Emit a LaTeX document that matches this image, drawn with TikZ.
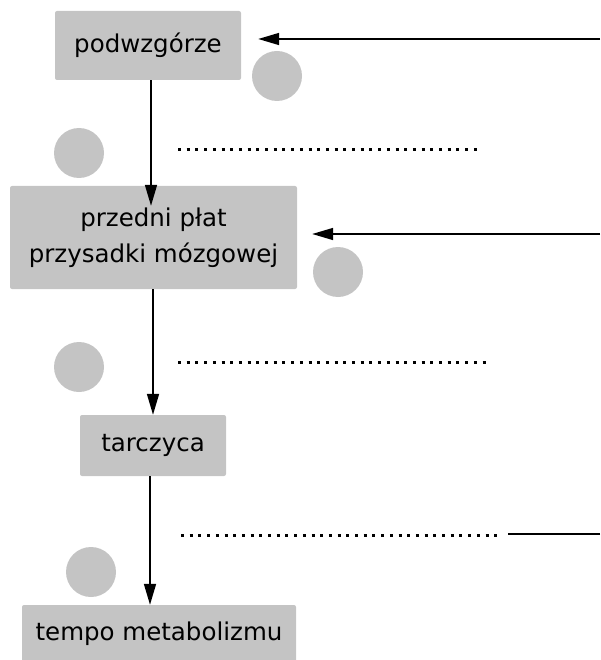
\documentclass[tikz,border=0pt]{standalone}
\usepackage{fontspec}
\setmainfont{DejaVu Sans}
\usetikzlibrary{arrows.meta}
\definecolor{boxgray}{RGB}{196,196,196}

\begin{document}
\begin{tikzpicture}[x=1pt,y=-1pt,
    box/.style={fill=boxgray, rounded corners=2pt, inner sep=0pt, align=center,
                font=\fontsize{24.5}{36}\selectfont},
    disc/.style={circle, fill=boxgray, minimum size=50pt, inner sep=0pt},
    arr/.style={line width=1.6pt, -{Triangle[length=21pt,width=12pt]}},
    dots/.style={line width=3pt, dash pattern=on 3pt off 5.7pt}]
    \useasboundingbox (0,0) rectangle (600,660);
    % boxes
    \node[box, minimum width=186pt, minimum height=69pt]  (podw)  at (148,45.5)  {podwzgórze};
    \node[box, minimum width=287pt, minimum height=103pt] (plat)  at (153.5,237.5) {przedni płat\\przysadki mózgowej};
    \node[box, minimum width=146pt, minimum height=61pt]  (tarcz) at (153,445.5) {tarczyca};
    \node[box, minimum width=274pt, minimum height=58pt]  (tempo) at (159,634) {tempo metabolizmu};
    % circles
    \node[disc] (c1) at (277,76)  {};
    \node[disc] (c2) at (79,153)  {};
    \node[disc] (c3) at (338,272) {};
    \node[disc] (c4) at (79,367)  {};
    \node[disc] (c5) at (91,572)  {};
    % vertical arrows
    \draw[arr, shorten >=-20pt] (podw.south -| 151,0) -- (plat.north -| 151,0);
    \draw[arr] (plat.south -| 153,0) -- (tarcz.north -| 153,0);
    \draw[arr] (tarcz.south -| 150,0) -- (tempo.north -| 150,0);
    % feedback from the right
    \coordinate (r1) at (600,39);
    \coordinate (r2) at (600,234);
    \coordinate (r3) at (600,534);
    \coordinate (e3) at (508,534);
    \draw[arr, shorten >=17pt] (r1) -- (podw.east |- r1);
    \draw[arr, shorten >=15pt] (r2) -- (plat.east |- r2);
    \draw[line width=1.6pt] (r3) -- (e3);
    % dotted lines
    \draw[dots] (178,150) -- (480,150);
    \draw[dots] (178,362) -- (489,362);
    \draw[dots] (181,535) -- (500,535);
\end{tikzpicture}
\end{document}
